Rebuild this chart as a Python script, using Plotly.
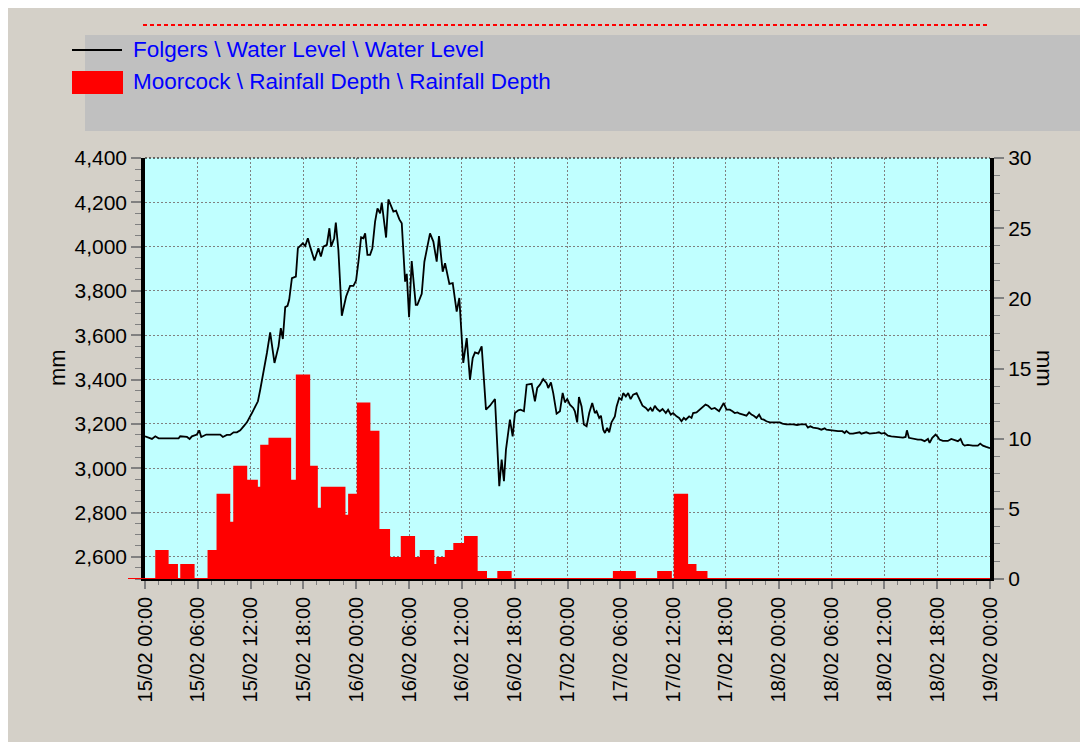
import pandas as pd
import plotly.graph_objects as go

# ---------------- data ----------------
BASE = pd.Timestamp("2020-02-15 00:00")

# Folgers water level (mm): hours after 15/02 00:00 and level
wl_hours = [0.0, 0.23, 0.79, 1.17, 1.55, 3.82, 4.0, 4.77, 5.07, 5.33, 5.9, 6.16, 6.39, 6.96,
            8.55, 8.85, 9.3, 9.68, 10.06, 10.44, 10.82, 11.2, 11.58, 12.15, 12.83, 13.09,
            13.46, 13.85, 14.22, 14.71, 15.17, 15.43, 15.66, 15.93, 16.19, 16.38, 16.69,
            17.14, 17.37, 17.63, 17.93, 18.2, 18.5, 18.76, 19.25, 19.7, 19.98, 20.27, 20.66,
            20.95, 21.15, 21.49, 21.68, 21.97, 22.36, 22.85, 23.3, 23.68, 23.98, 24.25, 24.55,
            24.81, 25.01, 25.27, 25.57, 25.83, 26.14, 26.41, 26.71, 26.9, 27.16, 27.39, 27.65,
            27.92, 28.22, 28.52, 28.9, 29.17, 29.55, 29.74, 30.0, 30.3, 30.76, 30.94, 31.44,
            31.74, 32.0, 32.38, 32.76, 33.14, 33.4, 33.82, 34.09, 34.58, 34.96, 35.41, 35.71,
            35.98, 36.16, 36.55, 36.92, 37.23, 37.49, 37.87, 38.25, 38.74, 39.19, 39.76,
            40.25, 40.52, 40.78, 41.01, 41.46, 41.77, 42.03, 42.41, 42.67, 43.05, 43.36,
            43.93, 44.3, 44.56, 44.87, 45.24, 45.63, 45.81, 46.12, 46.38, 46.76, 47.14,
            47.45, 47.71, 47.97, 48.27, 48.65, 48.84, 49.1, 49.3, 49.6, 49.86, 50.17, 50.47,
            50.81, 51.11, 51.3, 51.6, 51.8, 52.06, 52.25, 52.51, 52.74, 53.0, 53.38, 53.58,
            53.87, 54.14, 54.33, 54.63, 54.89, 55.17, 55.46, 55.85, 56.14, 56.52, 56.9,
            57.16, 57.43, 57.66, 57.92, 58.18, 58.49, 58.8, 59.17, 59.43, 59.74, 60.0, 60.39,
            60.68, 60.95, 61.22, 61.44, 61.82, 62.09, 62.27, 62.66, 63.03, 63.34, 63.68,
            63.97, 64.36, 64.73, 64.99, 65.22, 65.49, 65.75, 66.06, 66.44, 66.74, 67.0,
            67.31, 67.57, 67.95, 68.33, 68.63, 68.9, 69.16, 69.47, 69.77, 70.03, 70.3, 70.6,
            70.98, 72.11, 72.42, 72.87, 73.63, 74.08, 74.46, 75.06, 75.32, 75.6, 75.9,
            76.46, 76.84, 77.22, 77.41, 77.79, 78.16, 78.73, 79.23, 79.49, 79.68, 80.06,
            80.43, 80.81, 81.19, 81.38, 81.65, 81.95, 82.33, 82.7, 83.09, 83.38, 83.66,
            84.03, 84.4, 84.79, 85.36, 85.73, 86.11, 86.41, 86.56, 86.79, 87.24, 87.81,
            88.19, 88.57, 88.95, 89.14, 89.44, 89.82, 90.08, 90.27, 90.65, 91.21, 91.6,
            91.97, 92.35, 92.66, 92.92, 93.11, 93.49, 94.05, 94.62, 94.89, 95.19, 95.57,
            95.83, 96.0]
wl_values = [3144, 3141, 3132, 3144, 3135, 3135, 3144, 3141, 3132, 3144, 3152, 3171, 3141, 3152,
             3152, 3141, 3150, 3150, 3162, 3162, 3171, 3189, 3207, 3249, 3302, 3354,
             3430, 3520, 3613, 3475, 3550, 3632, 3583, 3727, 3733, 3760, 3858,
             3865, 3993, 4004, 4015, 4003, 4038, 4000, 3937, 3993, 3955, 4000, 4008,
             4083, 4000, 4038, 4108, 3985, 3688, 3775, 3823, 3823, 3847, 3932, 4042,
             4038, 4060, 3963, 3963, 3993, 4113, 4173, 4150, 4198, 4120, 4041, 4213,
             4188, 4158, 4162, 4123, 4105, 3842, 3877, 3682, 3935, 3737, 3737, 3787,
             3932, 3985, 4060, 4023, 3932, 4048, 3887, 3925, 3832, 3835, 3707, 3768,
             3595, 3475, 3587, 3399, 3497, 3523, 3517, 3550, 3264, 3282, 3312,
             2919, 3039, 2941, 3084, 3219, 3144, 3249, 3261, 3264, 3257, 3377,
             3381, 3302, 3362, 3377, 3402, 3384, 3362, 3387, 3339, 3246, 3257,
             3340, 3297, 3312, 3287, 3272, 3257, 3207, 3321, 3279, 3197, 3189, 3249,
             3294, 3249, 3257, 3227, 3237, 3174, 3159, 3182, 3162, 3207, 3234, 3279,
             3317, 3309, 3339, 3324, 3339, 3312, 3332, 3339, 3317, 3282, 3272,
             3260, 3272, 3257, 3282, 3267, 3257, 3267, 3249, 3264, 3242, 3249, 3234,
             3227, 3212, 3227, 3219, 3234, 3227, 3249, 3252, 3264, 3272, 3287,
             3282, 3267, 3272, 3264, 3257, 3276, 3294, 3264, 3264, 3257, 3249,
             3252, 3246, 3242, 3237, 3252, 3242, 3237, 3227, 3242, 3222, 3219, 3212,
             3207, 3207, 3201, 3198, 3198, 3195, 3198, 3198, 3183, 3189, 3183,
             3180, 3174, 3180, 3174, 3171, 3171, 3167, 3167, 3159, 3168, 3156,
             3156, 3159, 3162, 3156, 3159, 3162, 3156, 3156, 3159, 3162, 3156,
             3159, 3147, 3144, 3141, 3141, 3138, 3141, 3171, 3137, 3132, 3129,
             3129, 3122, 3132, 3114, 3137, 3152, 3141, 3129, 3123, 3123, 3132,
             3126, 3122, 3132, 3108, 3102, 3105, 3102, 3102, 3111, 3102, 3096,
             3092, 3090]

# Moorcock rainfall depth (mm): start hour of each interval and depth
rain_hours = [0.0, 1.28, 2.57, 3.63, 4.12, 5.52, 7.22, 8.24, 9.57, 10.14, 11.5, 12.71, 13.2,
              14.14, 16.49, 17.25, 18.65, 19.52, 20.09, 22.66, 23.19, 24.18, 25.49, 26.52,
              27.73, 29.17, 30.57, 31.33, 32.76, 33.21, 34.17, 35.14, 36.36, 37.68, 38.74,
              40.14, 41.54, 53.27, 55.65, 58.3, 59.74, 60.19, 61.59, 62.54, 63.79, 96.0]
rain_values = [0, 2.0, 1.0, 0, 1.0, 0, 2.0, 6.0, 4.0, 8.0, 7.0, 6.5, 9.5,
               10.0, 7.0, 14.5, 8.0, 5.0, 6.5, 4.5, 6.0, 12.5, 10.5, 3.5,
               1.5, 3.0, 1.5, 2.0, 1.0, 1.5, 2.0, 2.5, 3.0, 0.5, 0,
               0.5, 0, 0.5, 0, 0.5, 0, 6.0, 1.0, 0.5, 0, 0]

series_names = ["Folgers \\ Water Level \\ Water Level",
                "Moorcock \\ Rainfall Depth \\ Rainfall Depth"]
left_ticks = [2600, 2800, 3000, 3200, 3400, 3600, 3800, 4000, 4200, 4400]
right_ticks = [0, 5, 10, 15, 20, 25, 30]

wl_x = [BASE + pd.Timedelta(hours=h) for h in wl_hours]
rain_x = [BASE + pd.Timedelta(hours=h) for h in rain_hours]

# ---------------- geometry (page pixels of the reference; page has an 8px body margin) ----------
W, H = 1110, 760
OFF = 8
PL, PR, PT, PB = 145, 990, 158, 579          # plot area in page pixels
L, R, T, B = PL - OFF, PR - OFF, PT - OFF, PB - OFF   # in figure pixels


def px(x):
    return (x - PL) / (PR - PL)


def py(y):
    return (PB - y) / (PB - PT)


FONT = "Liberation Sans, Arial, sans-serif"

fig = go.Figure()
fig.add_trace(go.Scatter(x=rain_x, y=rain_values, yaxis="y2", mode="lines",
                         line=dict(color="#ff0000", width=2, shape="hv"),
                         fill="tozeroy", fillcolor="#ff0000",
                         name=series_names[1], showlegend=False))
fig.add_trace(go.Scatter(x=wl_x, y=wl_values, mode="lines",
                         line=dict(color="#000000", width=1.8),
                         name=series_names[0], showlegend=False))

grid_dash = "1.5px,2.5px"
fig.update_layout(
    width=W, height=H,
    margin=dict(l=L, r=W - R, t=T, b=H - B, pad=0),
    paper_bgcolor="#d4d0c8",
    plot_bgcolor="#c0ffff",
    font=dict(family=FONT, size=21, color="#000000"),
    xaxis=dict(
        range=[BASE, BASE + pd.Timedelta(hours=96)],
        type="date",
        tick0=BASE, dtick=6 * 3600 * 1000,
        tickformat="%d/%m %H:%M", tickangle=-90,
        tickfont=dict(size=20),
        ticks="outside", ticklen=8, tickwidth=1.5, tickcolor="#808080",
        minor=dict(dtick=1.5 * 3600 * 1000, ticks="outside", ticklen=4,
                   tickcolor="#808080", tickwidth=1, showgrid=False),
        showgrid=True, gridcolor="#808080", gridwidth=1, griddash=grid_dash,
        showline=True, linecolor="#000000", linewidth=1.5,
        zeroline=False,
    ),
    yaxis=dict(
        range=[2500, 4400],
        tickvals=left_ticks, tickformat=",d",
        ticks="outside", ticklen=10, tickwidth=1.5, tickcolor="#808080",
        minor=dict(dtick=50, tick0=2500, ticks="outside", ticklen=6,
                   tickcolor="#808080", tickwidth=1, showgrid=False),
        showgrid=True, gridcolor="#808080", gridwidth=1, griddash=grid_dash,
        showline=True, linecolor="#000000", linewidth=3.5,
        zeroline=False,
    ),
    yaxis2=dict(
        range=[0, 30], overlaying="y", side="right",
        tickvals=right_ticks,
        ticks="outside", ticklen=10, tickwidth=1.5, tickcolor="#808080",
        minor=dict(dtick=1.25, tick0=0, ticks="outside", ticklen=6,
                   tickcolor="#808080", tickwidth=1, showgrid=False),
        showgrid=False,
        showline=True, linecolor="#000000", linewidth=4,
        zeroline=False,
    ),
)

shapes = [
    # red dashed line at the top
    dict(type="line", xref="paper", yref="paper", x0=px(143), x1=px(990), y0=py(25), y1=py(25),
         line=dict(color="#ff0000", width=2, dash="4px,3px")),
    # legend panel
    dict(type="rect", xref="paper", yref="paper", x0=px(85), x1=px(W + 30), y0=py(131), y1=py(35),
         fillcolor="#c0c0c0", line=dict(width=0)),
    # legend symbols
    dict(type="line", xref="paper", yref="paper", x0=px(72), x1=px(122), y0=py(50), y1=py(50),
         line=dict(color="#000000", width=2)),
    dict(type="rect", xref="paper", yref="paper", x0=px(72), x1=px(123), y0=py(94), y1=py(71),
         fillcolor="#ff0000", line=dict(width=0)),
    # dotted top border of plot
    dict(type="line", xref="paper", yref="paper", x0=0, x1=1, y0=1, y1=1,
         line=dict(color="#404040", width=1.5, dash="2px,2px")),
    # red zero line stub left of the plot
    dict(type="line", xref="paper", yref="y2", x0=px(128), x1=px(145), y0=0, y1=0,
         line=dict(color="#ff0000", width=2)),
]
fig.update_layout(shapes=shapes)

annotations = [
    dict(text=series_names[0], xref="paper", yref="paper", x=px(131), y=py(49),
         xanchor="left", yanchor="middle", showarrow=False,
         font=dict(family=FONT, size=22.5, color="#0000ff")),
    dict(text=series_names[1], xref="paper", yref="paper", x=px(131), y=py(81),
         xanchor="left", yanchor="middle", showarrow=False,
         font=dict(family=FONT, size=22.5, color="#0000ff")),
    dict(text="mm", xref="paper", yref="paper", x=px(57), y=py(368),
         xanchor="center", yanchor="middle", showarrow=False, textangle=-90,
         font=dict(family=FONT, size=22, color="#000000")),
    dict(text="mm", xref="paper", yref="paper", x=px(1045), y=py(368),
         xanchor="center", yanchor="middle", showarrow=False, textangle=90,
         font=dict(family=FONT, size=22, color="#000000")),
]
fig.update_layout(annotations=annotations)

fig.write_html("out.html")
